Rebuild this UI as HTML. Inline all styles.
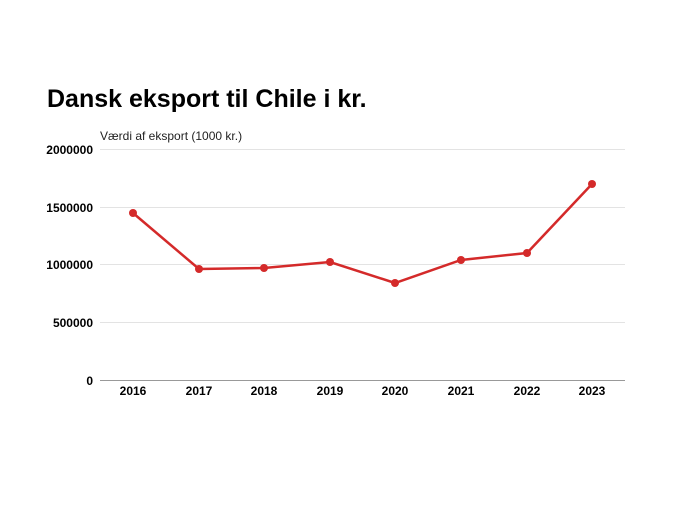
<!DOCTYPE html>
<html><head><meta charset="utf-8"><style>
body{margin:0;background:#fff;width:700px;height:525px;overflow:hidden;font-family:"Liberation Sans",sans-serif}
</style></head><body>
<svg width="700" height="525" xmlns="http://www.w3.org/2000/svg" font-family="Liberation Sans, sans-serif">
<text x="47" y="107" font-size="25" font-weight="bold" fill="#000">Dansk eksport til Chile i kr.</text>
<text x="100" y="140" font-size="12" fill="#222">Værdi af eksport (1000 kr.)</text>
<g stroke="#e3e3e3" stroke-width="1">
<line x1="100" x2="625" y1="149.5" y2="149.5"/>
<line x1="100" x2="625" y1="207.5" y2="207.5"/>
<line x1="100" x2="625" y1="264.5" y2="264.5"/>
<line x1="100" x2="625" y1="322.5" y2="322.5"/>
</g>
<line x1="100" x2="625" y1="380.5" y2="380.5" stroke="#999"/>
<g font-size="12" font-weight="bold" text-anchor="end" fill="#000">
<text x="93" y="154">2000000</text>
<text x="93" y="212">1500000</text>
<text x="93" y="269">1000000</text>
<text x="93" y="327">500000</text>
<text x="93" y="385">0</text>
</g>
<g font-size="12" font-weight="bold" text-anchor="middle" fill="#000">
<text x="133" y="395">2016</text><text x="199" y="395">2017</text><text x="264" y="395">2018</text><text x="330" y="395">2019</text>
<text x="395" y="395">2020</text><text x="461" y="395">2021</text><text x="527" y="395">2022</text><text x="592" y="395">2023</text>
</g>
<polyline fill="none" stroke="#d42a2a" stroke-width="2.5" points="133,213 199,269 264,268 330,262 395,283 461,260 527,253 592,184"/>
<g fill="#d42a2a">
<circle cx="133" cy="213" r="4"/><circle cx="199" cy="269" r="4"/><circle cx="264" cy="268" r="4"/><circle cx="330" cy="262" r="4"/>
<circle cx="395" cy="283" r="4"/><circle cx="461" cy="260" r="4"/><circle cx="527" cy="253" r="4"/><circle cx="592" cy="184" r="4"/>
</g>
</svg>
</body></html>
